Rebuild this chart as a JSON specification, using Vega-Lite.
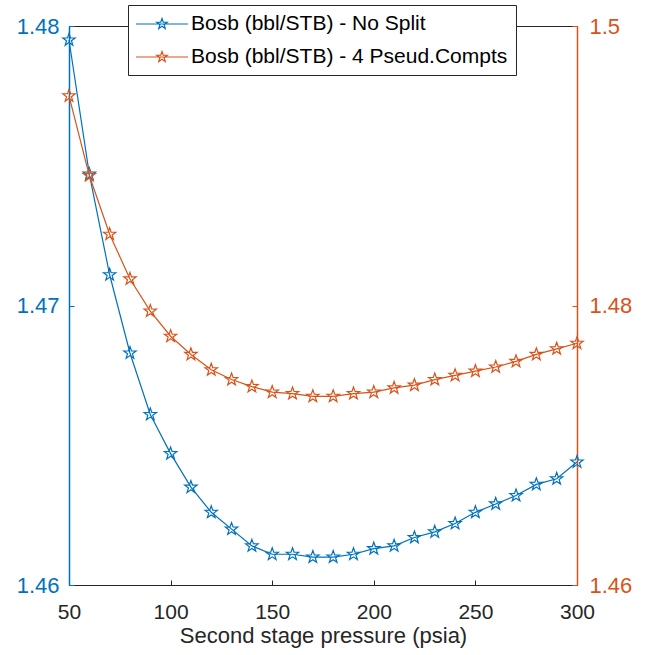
{
  "$schema": "https://vega.github.io/schema/vega-lite/v6.json",
  "width": 508,
  "height": 559,
  "autosize": {"type": "none"},
  "padding": {"left": 69, "top": 26, "right": 70, "bottom": 70},
  "background": "white",
  "config": {
    "font": "Liberation Sans",
    "view": {"stroke": "#262626", "strokeWidth": 1},
    "axis": {"grid": false, "titleFontWeight": "normal"}
  },
  "data": {
    "values": [
      {"p": 50, "s": "Bosb (bbl/STB) - No Split", "v": 1.4795},
      {"p": 60, "s": "Bosb (bbl/STB) - No Split", "v": 1.4747},
      {"p": 70, "s": "Bosb (bbl/STB) - No Split", "v": 1.4711},
      {"p": 80, "s": "Bosb (bbl/STB) - No Split", "v": 1.4683},
      {"p": 90, "s": "Bosb (bbl/STB) - No Split", "v": 1.4661},
      {"p": 100, "s": "Bosb (bbl/STB) - No Split", "v": 1.4647},
      {"p": 110, "s": "Bosb (bbl/STB) - No Split", "v": 1.4635},
      {"p": 120, "s": "Bosb (bbl/STB) - No Split", "v": 1.4626},
      {"p": 130, "s": "Bosb (bbl/STB) - No Split", "v": 1.4620},
      {"p": 140, "s": "Bosb (bbl/STB) - No Split", "v": 1.4614},
      {"p": 150, "s": "Bosb (bbl/STB) - No Split", "v": 1.4611},
      {"p": 160, "s": "Bosb (bbl/STB) - No Split", "v": 1.4611},
      {"p": 170, "s": "Bosb (bbl/STB) - No Split", "v": 1.4610},
      {"p": 180, "s": "Bosb (bbl/STB) - No Split", "v": 1.4610},
      {"p": 190, "s": "Bosb (bbl/STB) - No Split", "v": 1.4611},
      {"p": 200, "s": "Bosb (bbl/STB) - No Split", "v": 1.4613},
      {"p": 210, "s": "Bosb (bbl/STB) - No Split", "v": 1.4614},
      {"p": 220, "s": "Bosb (bbl/STB) - No Split", "v": 1.4617},
      {"p": 230, "s": "Bosb (bbl/STB) - No Split", "v": 1.4619},
      {"p": 240, "s": "Bosb (bbl/STB) - No Split", "v": 1.4622},
      {"p": 250, "s": "Bosb (bbl/STB) - No Split", "v": 1.4626},
      {"p": 260, "s": "Bosb (bbl/STB) - No Split", "v": 1.4629},
      {"p": 270, "s": "Bosb (bbl/STB) - No Split", "v": 1.4632},
      {"p": 280, "s": "Bosb (bbl/STB) - No Split", "v": 1.4636},
      {"p": 290, "s": "Bosb (bbl/STB) - No Split", "v": 1.4638},
      {"p": 300, "s": "Bosb (bbl/STB) - No Split", "v": 1.4644},
      {"p": 50, "s": "Bosb (bbl/STB) - 4 Pseud.Compts", "v": 1.4950},
      {"p": 60, "s": "Bosb (bbl/STB) - 4 Pseud.Compts", "v": 1.4893},
      {"p": 70, "s": "Bosb (bbl/STB) - 4 Pseud.Compts", "v": 1.4851},
      {"p": 80, "s": "Bosb (bbl/STB) - 4 Pseud.Compts", "v": 1.4819},
      {"p": 90, "s": "Bosb (bbl/STB) - 4 Pseud.Compts", "v": 1.4796},
      {"p": 100, "s": "Bosb (bbl/STB) - 4 Pseud.Compts", "v": 1.4778},
      {"p": 110, "s": "Bosb (bbl/STB) - 4 Pseud.Compts", "v": 1.4765},
      {"p": 120, "s": "Bosb (bbl/STB) - 4 Pseud.Compts", "v": 1.4754},
      {"p": 130, "s": "Bosb (bbl/STB) - 4 Pseud.Compts", "v": 1.4747},
      {"p": 140, "s": "Bosb (bbl/STB) - 4 Pseud.Compts", "v": 1.4742},
      {"p": 150, "s": "Bosb (bbl/STB) - 4 Pseud.Compts", "v": 1.4738},
      {"p": 160, "s": "Bosb (bbl/STB) - 4 Pseud.Compts", "v": 1.4737},
      {"p": 170, "s": "Bosb (bbl/STB) - 4 Pseud.Compts", "v": 1.4735},
      {"p": 180, "s": "Bosb (bbl/STB) - 4 Pseud.Compts", "v": 1.4735},
      {"p": 190, "s": "Bosb (bbl/STB) - 4 Pseud.Compts", "v": 1.4737},
      {"p": 200, "s": "Bosb (bbl/STB) - 4 Pseud.Compts", "v": 1.4738},
      {"p": 210, "s": "Bosb (bbl/STB) - 4 Pseud.Compts", "v": 1.4741},
      {"p": 220, "s": "Bosb (bbl/STB) - 4 Pseud.Compts", "v": 1.4743},
      {"p": 230, "s": "Bosb (bbl/STB) - 4 Pseud.Compts", "v": 1.4747},
      {"p": 240, "s": "Bosb (bbl/STB) - 4 Pseud.Compts", "v": 1.4750},
      {"p": 250, "s": "Bosb (bbl/STB) - 4 Pseud.Compts", "v": 1.4753},
      {"p": 260, "s": "Bosb (bbl/STB) - 4 Pseud.Compts", "v": 1.4756},
      {"p": 270, "s": "Bosb (bbl/STB) - 4 Pseud.Compts", "v": 1.4760},
      {"p": 280, "s": "Bosb (bbl/STB) - 4 Pseud.Compts", "v": 1.4765},
      {"p": 290, "s": "Bosb (bbl/STB) - 4 Pseud.Compts", "v": 1.4769},
      {"p": 300, "s": "Bosb (bbl/STB) - 4 Pseud.Compts", "v": 1.4773}
    ]
  },
  "encoding": {
    "x": {
      "field": "p", "type": "quantitative",
      "scale": {"domain": [50, 300], "nice": false, "zero": false},
      "axis": {
        "title": "Second stage pressure (psia)",
        "values": [50, 100, 150, 200, 250, 300],
        "tickSize": -5, "tickColor": "#262626", "domainColor": "#262626", "domainWidth": 1.2,
        "labelColor": "#262626", "labelFontSize": 21, "labelPadding": 21, "labelFlush": false,
        "titleColor": "#262626", "titleFontSize": 22, "titlePadding": 3
      }
    },
    "color": {
      "field": "s", "type": "nominal",
      "scale": {"domain": ["Bosb (bbl/STB) - No Split", "Bosb (bbl/STB) - 4 Pseud.Compts"], "range": ["#0072BD", "#D95319"]},
      "legend": {
        "title": null, "orient": "none", "legendX": 59, "legendY": -21, "direction": "vertical",
        "padding": 8, "strokeColor": "#262626", "fillColor": "white",
        "symbolType": "M-2.6,0L2.6,0M0,-0.55L0.129,-0.178L0.523,-0.17L0.209,0.068L0.323,0.445L0,0.22L-0.323,0.445L-0.209,0.068L-0.523,-0.17L-0.129,-0.178Z",
        "symbolSize": 400, "symbolStrokeWidth": 1.2, "symbolOffset": 15, "symbolFillColor": "transparent",
        "labelFontSize": 21, "labelOffset": 18, "labelColor": "black", "labelLimit": 400,
        "rowPadding": 12
      }
    }
  },
  "layer": [
    {
      "transform": [{"filter": "datum.s == 'Bosb (bbl/STB) - No Split'"}],
      "encoding": {
        "y": {
          "field": "v", "type": "quantitative",
          "scale": {"domain": [1.46, 1.48], "nice": false, "zero": false},
          "axis": {
            "orient": "left", "title": null, "values": [1.46, 1.47, 1.48], "format": "~g",
            "tickSize": -5, "tickColor": "#0072BD", "domainColor": "#0072BD", "domainWidth": 1.5,
            "labelColor": "#0072BD", "labelFontSize": 22, "labelPadding": 15
          }
        }
      },
      "mark": {"type": "line", "strokeWidth": 1.2, "point": {"shape": "M0,-1L0.235,-0.324L0.951,-0.309L0.38,0.124L0.588,0.809L0,0.4L-0.588,0.809L-0.38,0.124L-0.951,-0.309L-0.235,-0.324Z", "filled": false, "size": 170, "strokeWidth": 1.2}}
    },
    {
      "transform": [{"filter": "datum.s == 'Bosb (bbl/STB) - 4 Pseud.Compts'"}],
      "encoding": {
        "y": {
          "field": "v", "type": "quantitative",
          "scale": {"domain": [1.46, 1.5], "nice": false, "zero": false},
          "axis": {
            "orient": "right", "title": null, "values": [1.46, 1.48, 1.5], "format": "~g",
            "tickSize": -5, "tickColor": "#D95319", "domainColor": "#D95319", "domainWidth": 1.5,
            "labelColor": "#D95319", "labelFontSize": 22, "labelPadding": 17
          }
        }
      },
      "mark": {"type": "line", "strokeWidth": 1.2, "point": {"shape": "M0,-1L0.235,-0.324L0.951,-0.309L0.38,0.124L0.588,0.809L0,0.4L-0.588,0.809L-0.38,0.124L-0.951,-0.309L-0.235,-0.324Z", "filled": false, "size": 170, "strokeWidth": 1.2}}
    }
  ],
  "resolve": {"scale": {"y": "independent"}}
}
